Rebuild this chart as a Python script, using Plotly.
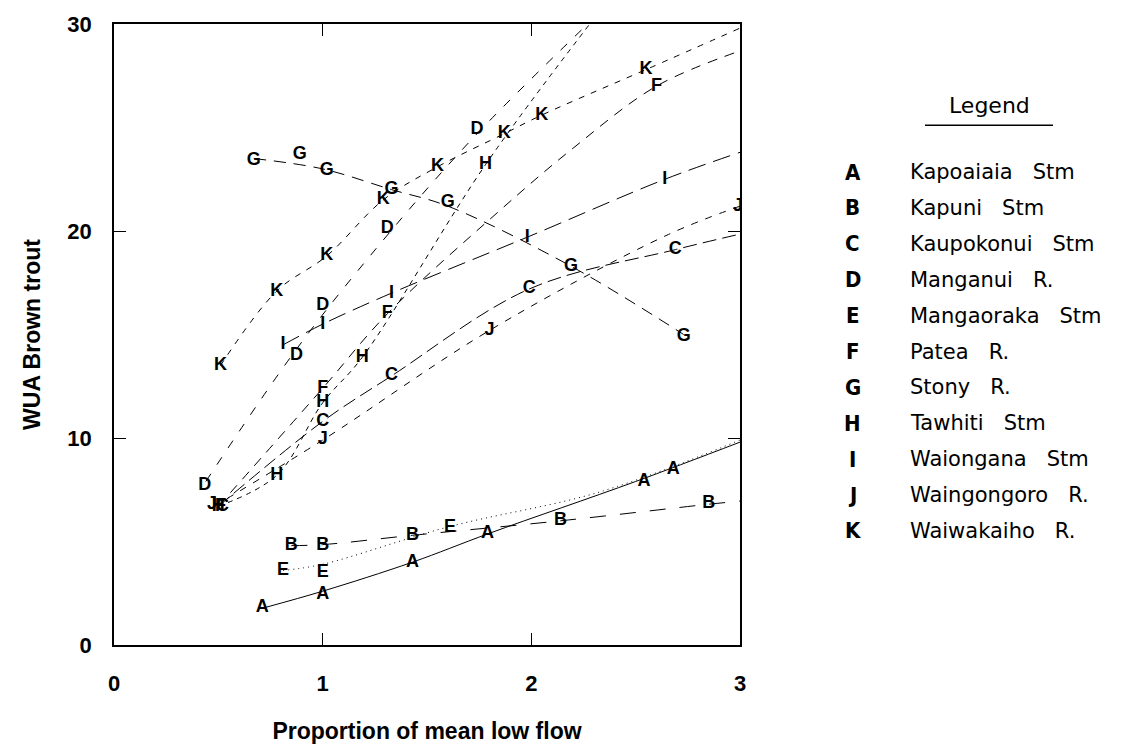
import plotly.graph_objects as go

# Site codes and names
codes = ["A", "B", "C", "D", "E", "F", "G", "H", "I", "J", "K"]
names = ["Kapoaiaia   Stm", "Kapuni   Stm", "Kaupokonui   Stm", "Manganui   R.",
         "Mangaoraka   Stm", "Patea   R.", "Stony   R.", "Tawhiti   Stm",
         "Waiongana   Stm", "Waingongoro   R.", "Waiwakaiho   R."]

# Observed WUA (x = proportion of mean low flow, y = WUA)
A_x = [0.71, 1.0, 1.43, 1.79, 2.54, 2.68]
A_y = [1.8, 2.45, 4.0, 5.4, 7.9, 8.5]
B_x = [0.85, 1.0, 1.43, 2.14, 2.85]
B_y = [4.8, 4.8, 5.3, 6.0, 6.85]
C_x = [0.52, 1.0, 1.33, 1.99, 2.69]
C_y = [6.7, 10.8, 13.0, 17.2, 19.1]
D_x = [0.435, 0.875, 1.0, 1.31, 1.74]
D_y = [7.7, 14.0, 16.4, 20.1, 24.9]
E_x = [0.81, 1.0, 1.61]
E_y = [3.6, 3.5, 5.7]
F_x = [0.51, 1.0, 1.31, 2.6]
F_y = [6.7, 12.4, 16.0, 27.0]
G_x = [0.67, 0.89, 1.02, 1.33, 1.6, 2.19, 2.73]
G_y = [23.4, 23.7, 22.9, 22.0, 21.4, 18.3, 14.9]
H_x = [0.5, 0.78, 1.0, 1.19, 1.78]
H_y = [6.7, 8.2, 11.7, 13.9, 23.2]
I_x = [0.81, 1.0, 1.33, 1.98, 2.64]
I_y = [14.5, 15.5, 17.0, 19.7, 22.5]
J_x = [0.47, 1.0, 1.8, 2.99]
J_y = [6.8, 9.95, 15.2, 21.2]
K_x = [0.51, 0.78, 1.02, 1.29, 1.55, 1.87, 2.05, 2.55]
K_y = [13.5, 17.1, 18.8, 21.5, 23.1, 24.7, 25.6, 27.8]

# Fitted response curves
A_fx = [0.72, 1.0, 1.43, 1.8, 2.5, 3.0]
A_fy = [1.8, 2.6, 4.0, 5.4, 7.9, 9.8]
B_fx = [0.85, 1.0, 1.43, 2.14, 2.85, 3.0]
B_fy = [4.8, 4.85, 5.3, 6.0, 6.8, 6.95]
C_fx = [0.5, 1.0, 1.33, 1.99, 2.69, 3.0]
C_fy = [6.7, 10.8, 13.0, 17.2, 19.1, 19.85]
D_fx = [0.44, 0.875, 1.31, 1.74, 2.27]
D_fy = [7.9, 14.3, 19.8, 24.7, 30.0]
E_fx = [0.81, 1.0, 1.6, 2.33, 3.0]
E_fy = [3.6, 3.9, 5.7, 7.4, 9.9]
F_fx = [0.5, 1.0, 1.31, 1.85, 2.2, 2.6, 3.0]
F_fy = [6.7, 12.4, 16.0, 21.0, 24.0, 27.0, 28.7]
G_fx = [0.67, 1.0, 1.33, 1.6, 2.19, 2.73]
G_fy = [23.5, 23.0, 22.0, 21.2, 18.3, 15.0]
H_fx = [0.5, 0.78, 1.0, 1.19, 1.78, 2.28]
H_fy = [6.7, 8.2, 11.7, 13.9, 23.2, 30.0]
I_fx = [0.81, 1.0, 1.33, 1.98, 2.64, 3.0]
I_fy = [14.5, 15.5, 17.0, 19.7, 22.5, 23.8]
J_fx = [0.48, 1.0, 1.8, 2.65, 3.0]
J_fy = [6.7, 9.9, 15.2, 19.8, 21.2]
K_fx = [0.51, 0.78, 1.02, 1.29, 1.55, 1.87, 2.05, 2.55, 3.0]
K_fy = [13.5, 17.1, 18.8, 21.5, 23.1, 24.7, 25.6, 27.8, 29.8]

obs = {"A": (A_x, A_y), "B": (B_x, B_y), "C": (C_x, C_y), "D": (D_x, D_y),
       "E": (E_x, E_y), "F": (F_x, F_y), "G": (G_x, G_y), "H": (H_x, H_y),
       "I": (I_x, I_y), "J": (J_x, J_y), "K": (K_x, K_y)}
fits = {"A": (A_fx, A_fy), "B": (B_fx, B_fy), "C": (C_fx, C_fy), "D": (D_fx, D_fy),
        "E": (E_fx, E_fy), "F": (F_fx, F_fy), "G": (G_fx, G_fy), "H": (H_fx, H_fy),
        "I": (I_fx, I_fy), "J": (J_fx, J_fy), "K": (K_fx, K_fy)}

dashes = {"A": "solid", "B": "16px,14px", "C": "14px,6px", "D": "9px,11px",
          "E": "1px,4px", "F": "10px,8px", "G": "12px,8px", "H": "5px,5px",
          "I": "18px,8px", "J": "7px,8px", "K": "6px,7px"}

LETTER_FONT = dict(family="Liberation Sans, Arial, sans-serif", size=18,
                   color="black", weight="bold")

fig = go.Figure()
for c in codes:
    fx, fy = fits[c]
    fig.add_trace(go.Scatter(
        x=fx, y=fy, mode="lines", line_shape="spline",
        line=dict(color="black", width=1, dash=dashes[c], smoothing=1.0),
        hoverinfo="skip", showlegend=False))
for c in codes:
    ox, oy = obs[c]
    fig.add_trace(go.Scatter(
        x=ox, y=oy, mode="text", text=[c] * len(ox),
        textposition="middle center", textfont=LETTER_FONT,
        showlegend=False, name=c))

# Key on the right: code letter, then site name
key_top = 0.7616
key_step = 0.0578
for i, (c, n) in enumerate(zip(codes, names)):
    yy = key_top - i * key_step
    fig.add_annotation(x=1.1805, y=yy, xref="paper", yref="paper", text=c,
                       showarrow=False, xanchor="center", yanchor="middle",
                       font=dict(family="Liberation Sans Narrow, DejaVu Sans Condensed, sans-serif",
                                 size=22, color="black", weight="bold"))
    fig.add_annotation(x=1.268, y=yy, xref="paper", yref="paper", text=n.replace(" ", "&nbsp;"),
                       showarrow=False, xanchor="left", yanchor="middle",
                       font=dict(family="DejaVu Sans, sans-serif", size=21, color="black"))
fig.add_annotation(x=1.399, y=0.8688, xref="paper", yref="paper", text="Legend",
                   showarrow=False, xanchor="center", yanchor="middle",
                   font=dict(family="DejaVu Sans, sans-serif", size=22, color="black"))
fig.add_shape(type="line", xref="paper", yref="paper", x0=1.2955, x1=1.5,
              y0=0.8368, y1=0.8368, line=dict(color="black", width=1.5))

AXIS_FONT = dict(family="Liberation Sans, Arial, sans-serif", size=22,
                 color="black", weight="bold")
TITLE_FONT = dict(family="Liberation Sans, Arial, sans-serif", size=23,
                  color="black", weight="bold")
fig.update_xaxes(range=[0, 3], tickvals=[0, 1, 2, 3], ticktext=["0", "1", "2", "3"],
                 showgrid=False, zeroline=False, showline=True, linecolor="black",
                 linewidth=1.5, mirror="ticks", ticks="inside", ticklen=12,
                 tickcolor="black", tickwidth=1.2, tickfont=AXIS_FONT,
                 ticklabelstandoff=18,
                 title=dict(text="Proportion of mean low flow", font=TITLE_FONT, standoff=28))
fig.update_yaxes(range=[0, 30], tickvals=[0, 10, 20, 30],
                 showgrid=False, zeroline=False, showline=True, linecolor="black",
                 linewidth=1.5, mirror="ticks", ticks="inside", ticklen=12,
                 tickcolor="black", tickwidth=1.2, tickfont=AXIS_FONT,
                 ticklabelstandoff=16,
                 title=dict(text="WUA Brown trout", font=TITLE_FONT, standoff=20))

fig.update_layout(width=1142, height=752, plot_bgcolor="white", paper_bgcolor="white",
                  margin=dict(l=114, r=402, t=23, b=104), showlegend=False)

fig.write_html("out.html")
